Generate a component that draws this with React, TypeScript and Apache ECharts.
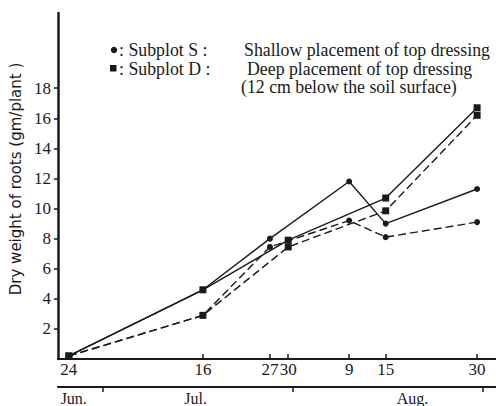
import React, { useEffect, useRef } from "react";
import * as echarts from "echarts";

// Days counted from 24 June
const tickDays = [0, 22, 33, 36, 46, 52, 67];
const tickLabels = ["24", "16", "27", "30", "9", "15", "30"];
const monthTickDays = [5.6, 36.7, 67.9];
const monthLabelDays = [0.8, 20.8, 56.4];
const monthLabels = ["Jun.", "Jul.", "Aug."];

const yTicks = [2, 4, 6, 8, 10, 12, 14, 16, 18];

// Subplot S (circles) sampling days and values
const daysS = [0, 22, 33, 46, 52, 67];
const sSolid = [0.2, 4.6, 8.0, 11.8, 9.0, 11.3];
const sDashed = [0.2, 2.9, 7.45, 9.2, 8.1, 9.1];

// Subplot D (squares) sampling days and values
const daysD = [0, 22, 36, 52, 67];
const dSolid = [0.2, 4.6, 7.9, 10.7, 16.7];
const dDashed = [0.2, 2.9, 7.45, 9.85, 16.2];

const pairs = (days: number[], vals: number[]) => days.map((d, i) => [d, vals[i]]);

const INK = "#1a1a1a";
const SERIF = "'Liberation Serif', 'Times New Roman', serif";
const LEG_FONT = `17.8px ${SERIF}`;

export default function App() {
  const ref = useRef<HTMLDivElement>(null);
  useEffect(() => {
    if (!ref.current) return;
    const chart = echarts.init(ref.current, undefined, { renderer: "svg" });
    const xMin = -1.8;
    const xMax = 70.1;
    const lineSeries = (name: string, data: number[][], dashed: boolean, symbol: string, size: number) => ({
      name,
      type: "line",
      data,
      symbol,
      symbolSize: size,
      showSymbol: true,
      lineStyle: { color: INK, width: 1.4, type: dashed ? [8, 4] : "solid" },
      itemStyle: { color: INK },
      z: 3,
    });
    chart.setOption({
      animation: false,
      backgroundColor: "#ffffff",
      grid: { left: 57, top: 13, width: 439, height: 348, containLabel: false },
      xAxis: [
        {
          type: "value",
          min: xMin,
          max: xMax,
          position: "bottom",
          axisLine: { show: true, onZero: false, lineStyle: { color: INK, width: 2 } },
          axisTick: { show: true, inside: true, length: 5, customValues: tickDays, lineStyle: { color: INK, width: 1.5 } },
          axisLabel: {
            show: true,
            customValues: tickDays,
            margin: 2,
            color: INK,
            fontFamily: SERIF,
            fontSize: 17,
            formatter: (v: number) => {
              const i = tickDays.indexOf(v);
              return i >= 0 ? tickLabels[i] : "";
            },
          },
          splitLine: { show: false },
        },
        {
          type: "value",
          min: xMin,
          max: xMax,
          position: "bottom",
          offset: 28,
          axisLine: { show: true, onZero: false, lineStyle: { color: INK, width: 2 } },
          axisTick: { show: true, inside: false, length: 5, customValues: monthTickDays, lineStyle: { color: INK, width: 1.5 } },
          axisLabel: {
            show: true,
            customValues: monthLabelDays,
            margin: 3,
            color: INK,
            fontFamily: SERIF,
            fontSize: 16,
            formatter: (v: number) => {
              const i = monthLabelDays.indexOf(v);
              return i >= 0 ? monthLabels[i] : "";
            },
          },
          splitLine: { show: false },
        },
      ],
      yAxis: {
        type: "value",
        min: 0,
        max: 23,
        name: "Dry weight of roots (gm/plant )",
        nameLocation: "middle",
        nameRotate: 90,
        nameGap: 30,
        nameTextStyle: {
          color: INK,
          fontFamily: "'DejaVu Sans', sans-serif",
          fontSize: 15,
          padding: [0, 0, 0, 14],
        },
        axisLine: { show: true, onZero: false, lineStyle: { color: INK, width: 2.5 } },
        axisTick: { show: true, inside: false, length: 4, customValues: yTicks, lineStyle: { color: INK, width: 1.5 } },
        axisLabel: {
          show: true,
          customValues: yTicks,
          margin: 7,
          color: INK,
          fontFamily: SERIF,
          fontSize: 17,
        },
        splitLine: { show: false },
      },
      series: [
        lineSeries("Subplot S (solid)", pairs(daysS, sSolid), false, "circle", 6),
        lineSeries("Subplot S (dashed)", pairs(daysS, sDashed), true, "circle", 6),
        lineSeries("Subplot D (solid)", pairs(daysD, dSolid), false, "rect", 7),
        lineSeries("Subplot D (dashed)", pairs(daysD, dDashed), true, "rect", 7),
      ],
      graphic: [
        { type: "circle", shape: { cx: 114, cy: 50, r: 3.2 }, style: { fill: INK } },
        { type: "text", x: 119, y: 50, style: { text: ": Subplot S :", fill: INK, font: LEG_FONT, verticalAlign: "middle" } },
        { type: "text", x: 244, y: 50, style: { text: "Shallow placement of top dressing", fill: INK, font: LEG_FONT, verticalAlign: "middle" } },
        { type: "rect", shape: { x: 110, y: 65, width: 6.5, height: 6.5 }, style: { fill: INK } },
        { type: "text", x: 119, y: 68.5, style: { text: ": Subplot D :", fill: INK, font: LEG_FONT, verticalAlign: "middle" } },
        { type: "text", x: 247, y: 68.5, style: { text: "Deep placement of top dressing", fill: INK, font: LEG_FONT, verticalAlign: "middle" } },
        { type: "text", x: 241, y: 87, style: { text: "(12 cm below the soil surface)", fill: INK, font: LEG_FONT, verticalAlign: "middle" } },
      ],
    });
    return () => chart.dispose();
  }, []);
  return (
    <div
      ref={ref}
      style={{ position: "fixed", left: 0, top: 0, width: 496, height: 406, background: "#fff" }}
    />
  );
}
